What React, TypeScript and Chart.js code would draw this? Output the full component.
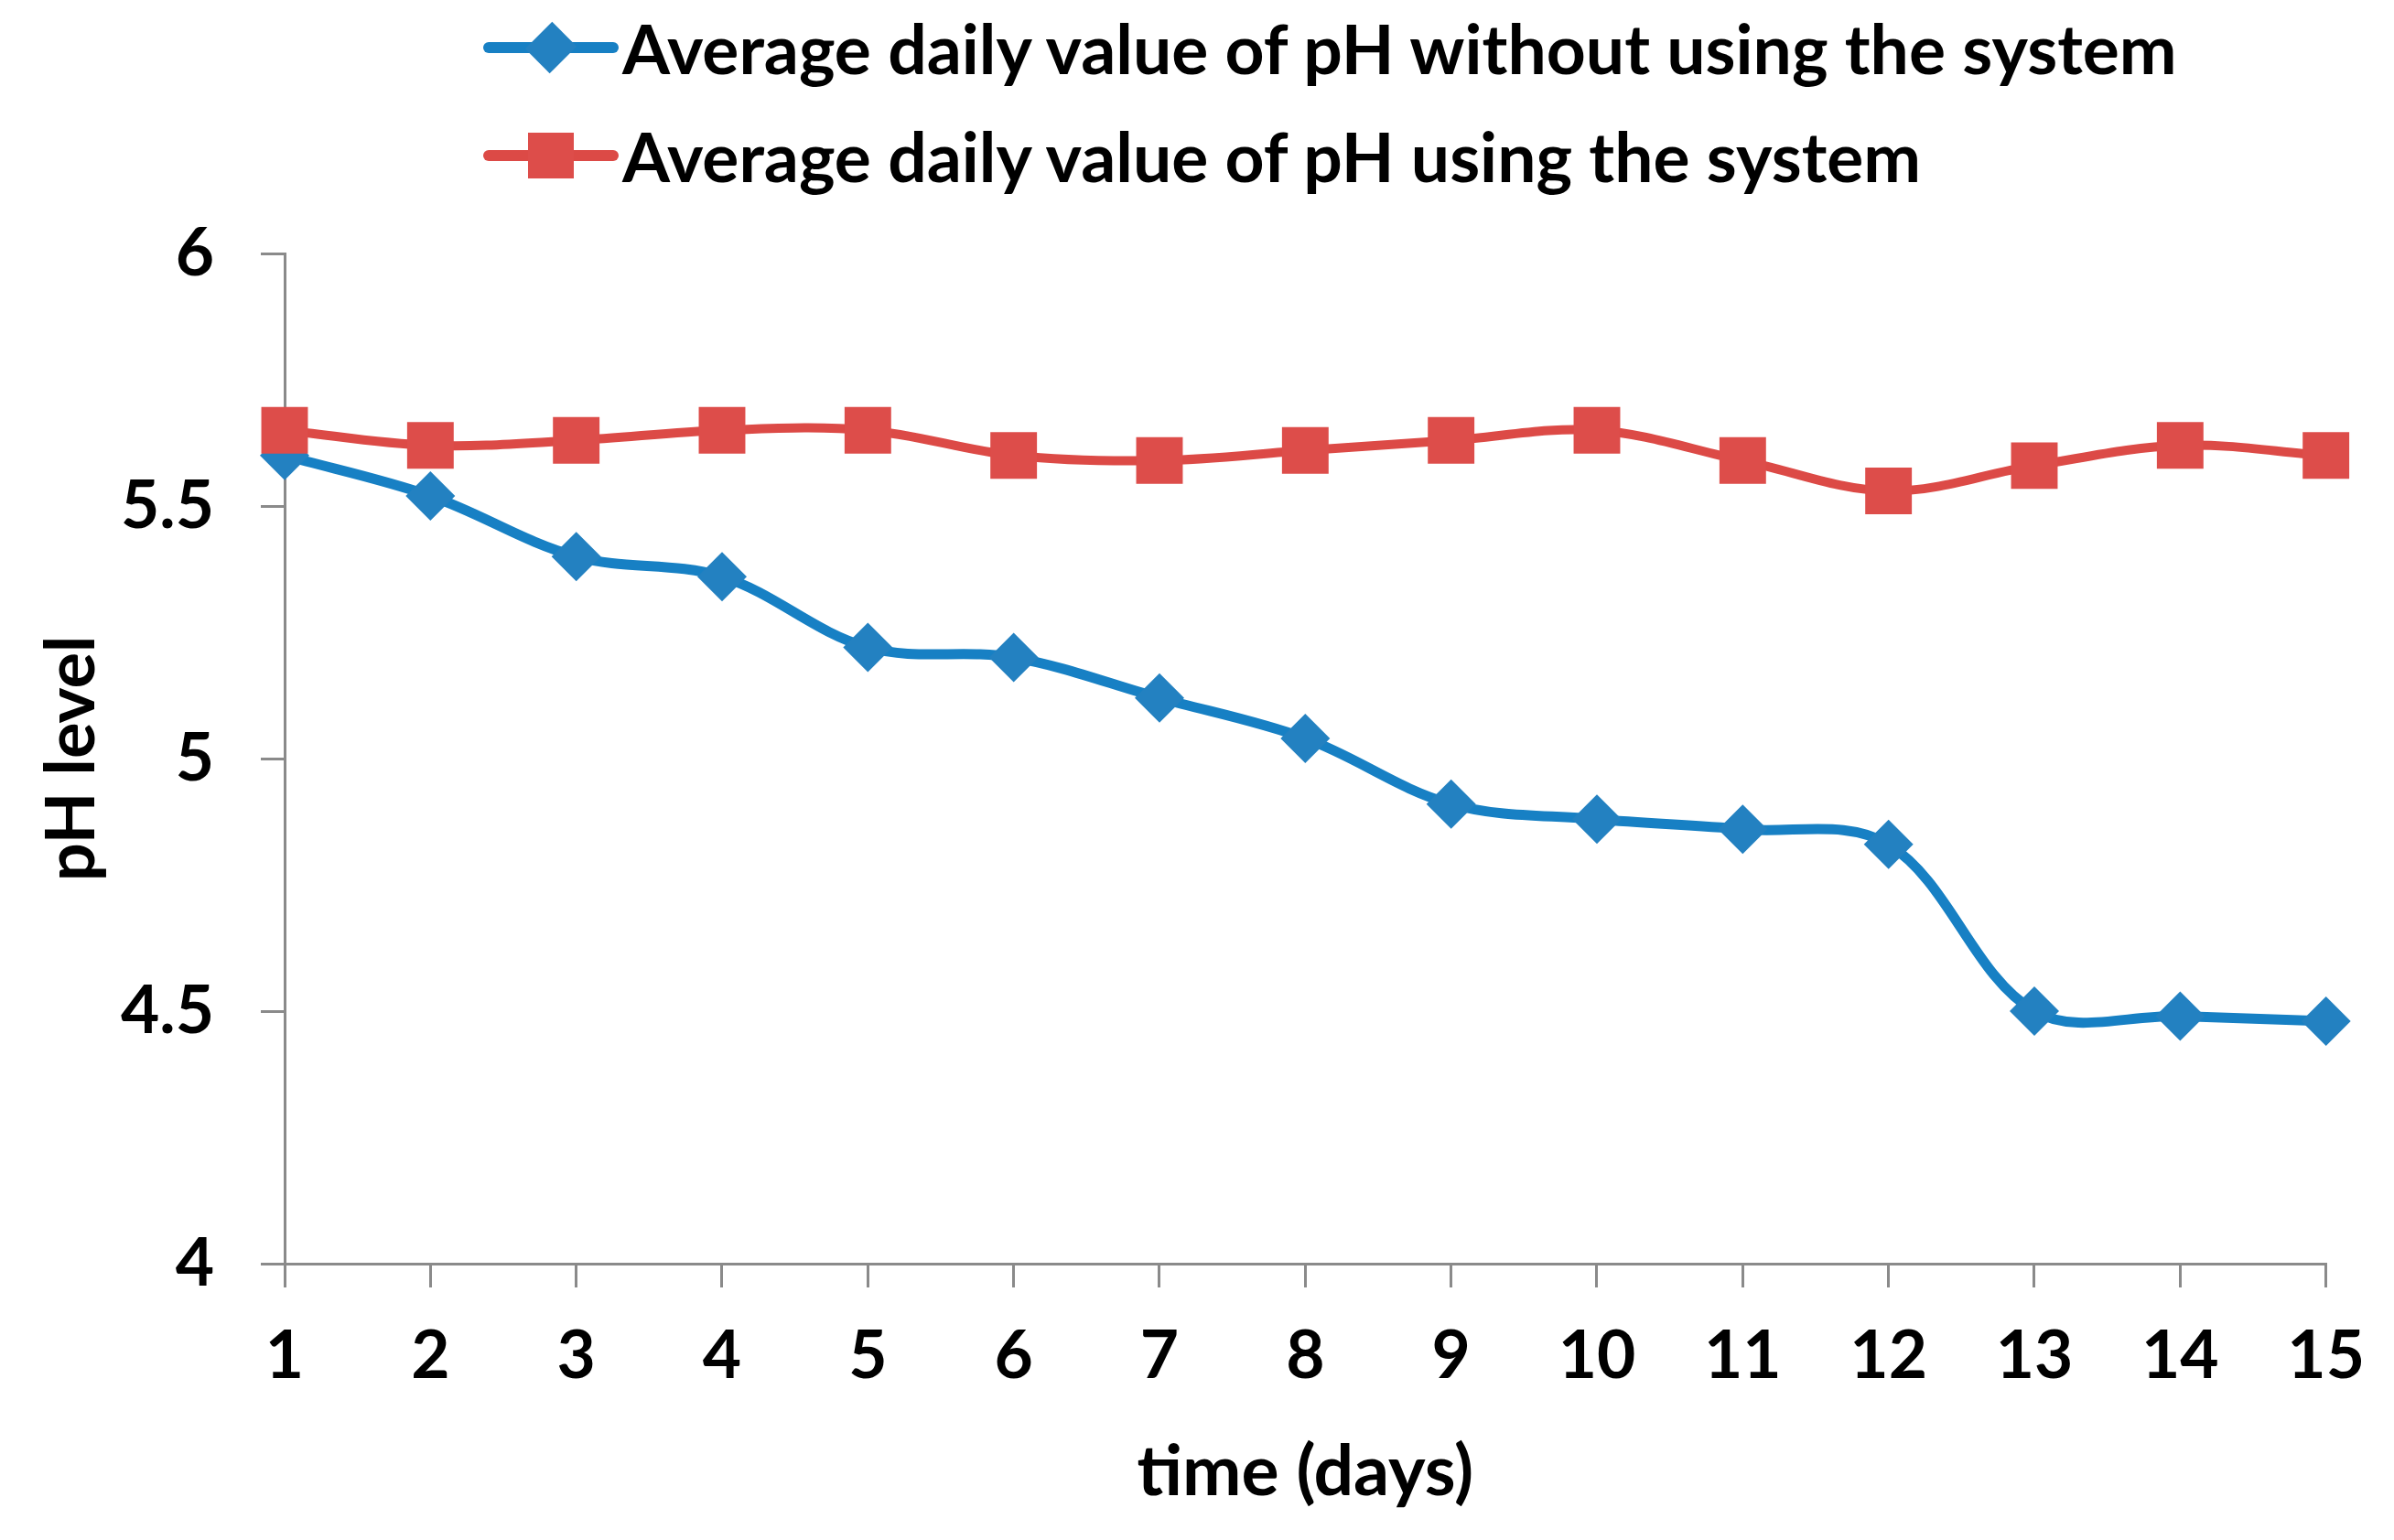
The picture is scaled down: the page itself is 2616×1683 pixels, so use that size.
import { useEffect, useRef } from 'react'
import Chart from 'chart.js/auto'

const DAYS = ['1', '2', '3', '4', '5', '6', '7', '8', '9', '10', '11', '12', '13', '14', '15']

// pH without the system (blue diamonds)
const PH_WITHOUT = [5.6, 5.52, 5.4, 5.36, 5.22, 5.2, 5.12, 5.04, 4.91, 4.88, 4.86, 4.83, 4.5, 4.49, 4.48]

// pH using the system (red squares)
const PH_WITH = [5.65, 5.62, 5.63, 5.65, 5.65, 5.6, 5.59, 5.61, 5.63, 5.65, 5.59, 5.53, 5.58, 5.62, 5.6]

const LABEL_WITHOUT = 'Average daily value of pH without using the system'
const LABEL_WITH = 'Average daily value of pH using the system'

const BLUE = '#1780C4'
const BLUE_MARK = '#2381C1'
const RED = '#DC4A46'
const RED_MARK = '#DD4D4A'
const AXIS = '#8A8A8A'
const FONT = 'Lato, "Open Sans", sans-serif'

const W = 2616
const H = 1683

function LegendRow({ label, color, mark, square, top }: { label: string; color: string; mark: string; square: boolean; top: number }) {
  return (
    <div style={{ position: 'absolute', left: 528, top, height: 80, display: 'flex', alignItems: 'center' }}>
      <div style={{ position: 'relative', width: 148, height: 80 }}>
        <div style={{ position: 'absolute', left: 0, top: 34, width: 148, height: 12, background: color, borderRadius: 6 }} />
        {square ? (
          <div style={{ position: 'absolute', left: 49, top: 15, width: 50, height: 50, background: mark }} />
        ) : (
          <div style={{ position: 'absolute', left: 55, top: 21, width: 38, height: 38, background: mark, transform: 'rotate(45deg) scale(1, 1.1)' }} />
        )}
      </div>
      <span style={{ marginLeft: 4, fontFamily: FONT, fontWeight: 700, fontSize: 75, color: '#000', whiteSpace: 'nowrap' }}>{label}</span>
    </div>
  )
}

export default function App() {
  const chartRef = useRef<HTMLCanvasElement>(null)
  const chartInstance = useRef<Chart | null>(null)

  useEffect(() => {
    if (!chartRef.current) return
    document.body.style.margin = '0'

    if (chartInstance.current) {
      chartInstance.current.destroy()
    }

    const ctx = chartRef.current.getContext('2d')
    if (!ctx) return

    chartInstance.current = new Chart(ctx, {
      type: 'line',
      data: {
        labels: DAYS,
        datasets: [
          {
            label: LABEL_WITH,
            data: PH_WITH,
            borderColor: RED,
            backgroundColor: RED_MARK,
            borderWidth: 10,
            pointStyle: 'rect',
            pointRadius: 36,
            pointBorderWidth: 0,
            tension: 0.35,
            clip: false,
            order: 0,
          },
          {
            label: LABEL_WITHOUT,
            data: PH_WITHOUT,
            borderColor: BLUE,
            backgroundColor: BLUE_MARK,
            borderWidth: 11,
            pointStyle: 'rectRot',
            pointRadius: 27,
            pointBorderWidth: 0,
            tension: 0.35,
            clip: false,
            order: 1,
          },
        ],
      },
      options: {
        responsive: false,
        animation: false,
        layout: {
          padding: { top: 277, right: 73, left: 0, bottom: 0 },
        },
        plugins: {
          legend: { display: false },
          tooltip: { enabled: false },
        },
        scales: {
          x: {
            type: 'category',
            offset: false,
            afterFit: (scale) => {
              scale.height = H - 1381
            },
            grid: {
              display: true,
              drawOnChartArea: false,
              drawTicks: true,
              tickLength: 26,
              color: AXIS,
              lineWidth: 3,
            },
            border: { display: true, color: AXIS, width: 3 },
            ticks: {
              color: '#000',
              padding: 32,
              maxRotation: 0,
              autoSkip: false,
              font: { family: FONT, weight: 'bold', size: 73 },
            },
            title: {
              display: true,
              text: 'time (days)',
              color: '#000',
              padding: { top: 0, bottom: 28 },
              font: { family: FONT, weight: 'bold', size: 77 },
            },
          },
          y: {
            min: 4,
            max: 6,
            afterFit: (scale) => {
              scale.width = 311
            },
            ticks: {
              stepSize: 0.5,
              color: '#000',
              padding: 51,
              font: { family: FONT, weight: 'bold', size: 73 },
              callback: (v) => String(v),
            },
            grid: {
              display: true,
              drawOnChartArea: false,
              drawTicks: true,
              tickLength: 26,
              color: AXIS,
              lineWidth: 3,
            },
            border: { display: true, color: AXIS, width: 3 },
            title: {
              display: true,
              text: 'pH level',
              color: '#000',
              padding: { top: 35, bottom: 0 },
              font: { family: FONT, weight: 'bold', size: 74 },
            },
          },
        },
      },
    })

    return () => {
      if (chartInstance.current) {
        chartInstance.current.destroy()
        chartInstance.current = null
      }
    }
  }, [])

  return (
    <div style={{ position: 'fixed', left: 0, top: 0, width: W, height: H, background: '#fff', overflow: 'hidden' }}>
      <canvas ref={chartRef} width={W} height={H} style={{ position: 'absolute', left: 0, top: 0 }} />
      <LegendRow label={LABEL_WITHOUT} color={BLUE} mark={BLUE_MARK} square={false} top={12} />
      <LegendRow label={LABEL_WITH} color={RED} mark={RED_MARK} square={true} top={130} />
    </div>
  )
}
